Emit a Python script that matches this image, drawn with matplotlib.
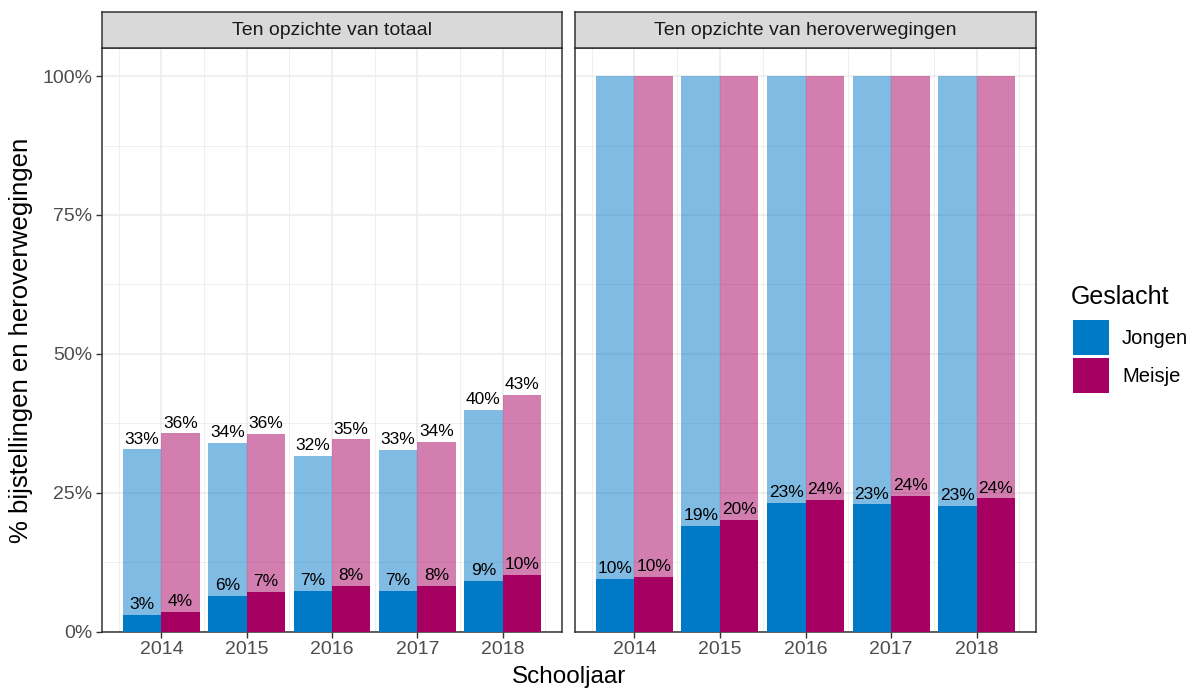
import matplotlib
matplotlib.use("Agg")
import matplotlib.pyplot as plt
from matplotlib.patches import Patch
import numpy as np

plt.rcParams['font.family'] = ['Liberation Sans', 'DejaVu Sans']

jaren = [2014, 2015, 2016, 2017, 2018]
panelen = ["Ten opzichte van totaal", "Ten opzichte van heroverwegingen"]

# totaal: heroverwegingen (licht) en bijstellingen (donker)
tot_jongen_herov = [0.328, 0.340, 0.317, 0.327, 0.399]
tot_meisje_herov = [0.357, 0.356, 0.346, 0.342, 0.426]
tot_jongen_bijst = [0.030, 0.064, 0.073, 0.074, 0.091]
tot_meisje_bijst = [0.036, 0.072, 0.082, 0.083, 0.102]

# ten opzichte van heroverwegingen
her_jongen_herov = [1.0, 1.0, 1.0, 1.0, 1.0]
her_meisje_herov = [1.0, 1.0, 1.0, 1.0, 1.0]
her_jongen_bijst = [0.095, 0.191, 0.232, 0.229, 0.227]
her_meisje_bijst = [0.099, 0.201, 0.237, 0.244, 0.240]

kleur_jongen = "#0079C6"
kleur_meisje = "#A60062"

fig = plt.figure(figsize=(11.95, 6.91), dpi=100)

W, H = 1195, 691
axL = fig.add_axes([102 / W, 1 - 631.7 / H, 460 / W, 583.4 / H])
axR = fig.add_axes([575 / W, 1 - 631.7 / H, 461 / W, 583.4 / H], sharey=axL)

x = np.array(jaren, dtype=float)
bw = 0.45

def teken(ax, jh, mh, jb, mb, label_licht):
    ax.bar(x - bw / 2, jh, width=bw, color=kleur_jongen, alpha=0.5, linewidth=0, zorder=2)
    ax.bar(x + bw / 2, mh, width=bw, color=kleur_meisje, alpha=0.5, linewidth=0, zorder=2)
    ax.bar(x - bw / 2, jb, width=bw, color=kleur_jongen, linewidth=0, zorder=3)
    ax.bar(x + bw / 2, mb, width=bw, color=kleur_meisje, linewidth=0, zorder=3)
    reeksen = [(x - bw / 2, jb), (x + bw / 2, mb)]
    if label_licht:
        reeksen += [(x - bw / 2, jh), (x + bw / 2, mh)]
    for xs, vals in reeksen:
        for xi, v in zip(xs, vals):
            ax.annotate(f"{round(v * 100):.0f}%", (xi, v), xytext=(0, 2.0),
                        textcoords="offset points", ha="center", va="bottom",
                        fontsize=12.5, color="black", zorder=4)

teken(axL, tot_jongen_herov, tot_meisje_herov, tot_jongen_bijst, tot_meisje_bijst, True)
teken(axR, her_jongen_herov, her_meisje_herov, her_jongen_bijst, her_meisje_bijst, False)

for ax, titel in zip([axL, axR], panelen):
    ax.set_xlim(2013.305, 2018.695)
    ax.set_ylim(0, 1.05)
    ax.set_xticks(jaren)
    ax.set_xticks(np.arange(2013.5, 2019, 1), minor=True)
    ax.set_yticks([0, 0.25, 0.5, 0.75, 1.0])
    ax.set_yticks([0.125, 0.375, 0.625, 0.875], minor=True)
    ax.grid(True, which="major", color="#EBEBEB", linewidth=1.1, zorder=0)
    ax.grid(True, which="minor", color="#EBEBEB", linewidth=0.55, zorder=0)
    ax.set_axisbelow(True)
    for sp in ax.spines.values():
        sp.set_color("#333333")
        sp.set_linewidth(1.1)
    ax.tick_params(axis="both", which="major", length=4, width=1.0, color="#333333",
                   labelsize=14, labelcolor="#4D4D4D", pad=3)
    ax.tick_params(axis="both", which="minor", length=0)
    ax.set_xticklabels([str(j) for j in jaren])
    # strip
    pos = ax.get_position()
    strip = fig.add_axes([pos.x0, 1 - 48.3 / H, pos.width, 36 / H])
    strip.set_facecolor("#D9D9D9")
    strip.set_xticks([])
    strip.set_yticks([])
    for sp in strip.spines.values():
        sp.set_color("#333333")
        sp.set_linewidth(1.1)
    strip.text(0.5, 0.5, titel, ha="center", va="center", fontsize=14, color="#1A1A1A",
               transform=strip.transAxes)

axL.set_yticklabels(["0%", "25%", "50%", "75%", "100%"])
axR.tick_params(axis="y", which="both", left=False, labelleft=False)

axL.set_ylabel("% bijstellingen en heroverwegingen", fontsize=18.5, labelpad=7)
fig.text((102 + 1036) / 2 / W, 1 - 677 / H, "Schooljaar", ha="center", va="center", fontsize=17.5)

fig.text(1071 / W, 1 - 297 / H, "Geslacht", ha="left", va="center", fontsize=18)
handles = [Patch(facecolor=kleur_jongen, edgecolor="none"),
           Patch(facecolor=kleur_meisje, edgecolor="none")]
leg = fig.legend(handles, ["Jongen", "Meisje"], loc="upper left",
                 bbox_to_anchor=(1073 / W, 1 - 320 / H), frameon=False,
                 fontsize=14.5, borderpad=0, borderaxespad=0,
                 handlelength=1.79, handleheight=2.3, labelspacing=0.15,
                 handletextpad=0.65)

fig.savefig("out.png", dpi=100)
